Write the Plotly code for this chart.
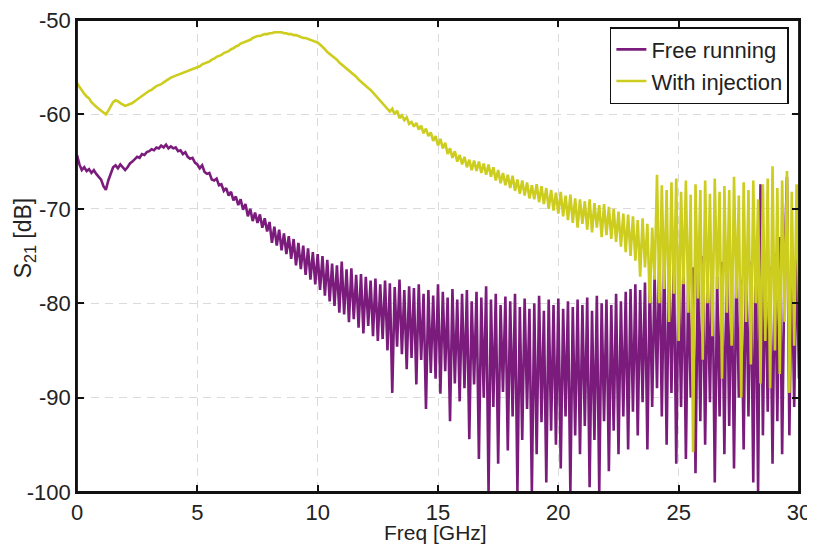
import plotly.graph_objects as go

# Frequency grid: 0 .. 30 GHz, one sample per 0.1 GHz (rows below = 1 GHz each)
FREQ_STEP = 0.1

free_running = [
    -64.3, -65.3, -65.9, -65.6, -66.0, -65.8, -66.2, -65.9, -66.3, -66.6,   # 0
    -66.9, -67.6, -68.0, -67.0, -66.2, -65.6, -65.4, -65.7, -65.3, -65.6,   # 1
    -65.9, -65.6, -65.2, -65.0, -64.8, -64.5, -64.6, -64.2, -64.3, -64.0,   # 2
    -63.9, -63.7, -63.8, -63.5, -63.6, -63.3, -63.5, -63.2, -63.6, -63.4,   # 3
    -63.6, -63.5, -63.9, -63.8, -64.2, -64.0, -64.5, -64.7, -64.6, -65.1,   # 4
    -65.3, -65.7, -65.4, -66.1, -66.3, -66.2, -66.9, -67.0, -66.8, -67.5,   # 5
    -67.4, -68.1, -67.8, -68.6, -68.2, -69.1, -68.7, -69.6, -69.0, -70.1,   # 6
    -69.5, -70.8, -70.0, -71.3, -70.4, -71.5, -70.6, -72.0, -71.0, -72.4,   # 7
    -71.4, -73.6, -71.9, -73.9, -72.2, -74.4, -72.6, -74.8, -72.9, -75.3,   # 8
    -73.2, -76.0, -73.6, -76.4, -73.9, -77.0, -74.2, -77.5, -74.6, -78.0,   # 9
    -74.8, -78.6, -75.0, -79.2, -75.4, -79.8, -75.8, -80.3, -76.0, -81.0,   # 10
    -75.6, -81.2, -76.4, -82.0, -76.3, -81.7, -77.0, -82.6, -76.9, -83.2,   # 11
    -77.2, -82.4, -77.6, -83.5, -77.4, -84.0, -78.0, -83.8, -77.6, -85.0,   # 12
    -77.9, -89.5, -78.3, -84.6, -77.5, -85.4, -78.6, -87.0, -78.2, -85.8,   # 13
    -78.4, -88.6, -78.0, -86.0, -79.0, -91.2, -78.6, -87.4, -79.2, -88.0,   # 14
    -78.0, -89.6, -78.8, -87.2, -79.4, -92.5, -78.5, -88.5, -79.6, -90.4,   # 15
    -79.0, -89.0, -78.6, -94.4, -79.8, -88.6, -78.8, -96.5, -79.4, -90.0,   # 16
    -78.2, -100.0, -79.6, -91.0, -79.0, -97.0, -80.2, -89.4, -79.3, -95.6,  # 17
    -79.8, -92.0, -79.0, -100.0, -80.4, -94.5, -79.5, -91.2, -80.6, -100.0, # 18
    -80.0, -96.0, -79.2, -92.6, -80.8, -99.0, -79.6, -93.5, -80.2, -95.0,   # 19
    -79.5, -97.5, -80.6, -92.0, -79.8, -100.0, -80.4, -94.0, -79.6, -96.0,  # 20
    -80.2, -93.0, -79.4, -99.5, -80.8, -94.5, -79.2, -100.0, -80.0, -92.5,  # 21
    -79.6, -97.8, -80.2, -93.5, -79.0, -96.0, -79.8, -92.0, -78.8, -95.5,   # 22
    -78.5, -91.5, -78.0, -94.0, -78.6, -90.5, -77.8, -95.5, -77.5, -91.0,   # 23
    -77.0, -89.0, -74.4, -92.0, -74.8, -95.0, -75.5, -89.5, -74.6, -97.0,   # 24
    -76.0, -91.0, -75.2, -96.5, -77.0, -90.0, -76.2, -98.0, -75.8, -92.5,   # 25
    -75.0, -95.0, -76.6, -90.5, -74.8, -99.0, -77.2, -92.0, -75.6, -96.0,   # 26
    -74.4, -93.0, -76.0, -97.5, -75.2, -90.0, -77.5, -95.5, -74.9, -92.0,   # 27
    -75.6, -99.0, -73.6, -100.0, -67.4, -94.0, -75.0, -91.5, -76.2, -97.0,  # 28
    -74.8, -92.5, -73.0, -96.0, -75.5, -66.6, -94.0, -75.0, -91.0, -74.0,   # 29
    -88.0,                                                                   # 30
]

with_injection = [
    -56.7, -57.1, -57.4, -57.8, -58.1, -58.3, -58.7, -59.0, -59.2, -59.4,   # 0
    -59.6, -59.8, -60.0, -59.6, -59.1, -58.7, -58.5, -58.6, -58.8, -59.0,   # 1
    -59.1, -59.0, -58.9, -58.8, -58.6, -58.4, -58.2, -58.0, -57.8, -57.7,   # 2
    -57.5, -57.4, -57.2, -57.0, -56.9, -56.8, -56.6, -56.4, -56.2, -56.1,   # 3
    -56.0, -55.9, -55.8, -55.7, -55.6, -55.5, -55.4, -55.3, -55.2, -55.1,   # 4
    -55.0, -54.9, -54.7, -54.6, -54.5, -54.4, -54.2, -54.1, -53.9, -53.8,   # 5
    -53.7, -53.5, -53.4, -53.3, -53.1, -53.0, -52.8, -52.7, -52.5, -52.4,   # 6
    -52.3, -52.2, -52.1, -51.9, -51.8, -51.7, -51.7, -51.6, -51.5, -51.5,   # 7
    -51.4, -51.4, -51.3, -51.3, -51.3, -51.3, -51.4, -51.4, -51.5, -51.5,   # 8
    -51.6, -51.6, -51.7, -51.8, -51.9, -51.9, -52.0, -52.1, -52.2, -52.3,   # 9
    -52.4, -52.6, -52.8, -53.1, -53.4, -53.6, -53.8, -54.0, -54.2, -54.5,   # 10
    -54.7, -55.0, -55.2, -55.4, -55.6, -55.8, -56.0, -56.3, -56.5, -56.7,   # 11
    -56.9, -57.2, -57.4, -57.7, -58.0, -58.3, -58.6, -58.9, -59.2, -59.5,   # 12
    -59.7, -59.4, -60.0, -59.6, -60.4, -60.1, -60.6, -60.3, -61.0, -60.8,   # 13
    -61.3, -60.9, -61.6, -61.2, -62.0, -61.5, -62.3, -61.9, -62.8, -62.3,   # 14
    -63.3, -62.6, -63.6, -63.0, -64.2, -63.6, -64.6, -63.9, -65.0, -64.3,   # 15
    -65.3, -64.5, -65.6, -64.8, -65.9, -64.9, -66.0, -65.0, -66.2, -65.2,   # 16
    -66.4, -65.3, -66.6, -65.6, -67.0, -65.9, -67.3, -66.2, -67.5, -66.4,   # 17
    -67.8, -66.5, -68.1, -66.9, -68.4, -67.0, -68.6, -67.2, -68.9, -67.5,   # 18
    -69.0, -67.4, -69.3, -67.6, -69.5, -67.8, -70.0, -68.0, -70.2, -68.3,   # 19
    -70.5, -68.2, -70.8, -68.6, -71.2, -68.5, -71.5, -68.9, -72.0, -69.0,   # 20
    -71.6, -69.2, -72.2, -69.0, -72.5, -69.4, -72.0, -69.6, -73.0, -69.5,   # 21
    -72.8, -69.8, -73.2, -70.0, -73.5, -70.3, -74.0, -70.5, -74.6, -70.6,   # 22
    -75.0, -70.8, -75.5, -71.2, -77.2, -71.0, -76.2, -71.6, -80.0, -72.0,   # 23
    -77.5, -66.4, -80.0, -67.5, -78.5, -68.0, -82.0, -67.2, -79.0, -66.8,   # 24
    -84.0, -68.2, -78.0, -67.0, -81.0, -68.5, -95.8, -67.4, -79.5, -68.0,   # 25
    -86.0, -67.0, -80.0, -68.4, -83.5, -66.8, -78.5, -68.2, -88.0, -67.6,   # 26
    -81.0, -68.0, -84.5, -66.6, -79.5, -68.6, -90.0, -67.2, -82.0, -68.0,   # 27
    -86.5, -67.0, -80.0, -69.0, -88.5, -67.4, -84.0, -66.8, -89.0, -65.5,   # 28
    -85.0, -67.8, -87.5, -67.0, -82.0, -66.0, -89.5, -68.2, -84.5, -67.4,   # 29
    -80.0,                                                                   # 30
]

x_ticks = [0, 5, 10, 15, 20, 25, 30]
x_tick_labels = ["0", "5", "10", "15", "20", "25", "30"]
y_ticks = [-100, -90, -80, -70, -60, -50]
y_tick_labels = ["-100", "-90", "-80", "-70", "-60", "-50"]

freq = [round(i * FREQ_STEP, 1) for i in range(len(free_running))]

FONT = "Liberation Sans, Arial, sans-serif"
PURPLE = "#7b1c7d"
YELLOW = "#cdcd1f"

fig = go.Figure()
fig.add_trace(go.Scatter(x=freq, y=free_running, mode="lines", name="Free running",
                         line=dict(color=PURPLE, width=2.6)))
fig.add_trace(go.Scatter(x=freq, y=with_injection, mode="lines", name="With injection",
                         line=dict(color=YELLOW, width=2.6)))

axis_common = dict(
    ticks="inside", ticklen=7, tickwidth=1.5, tickcolor="#111",
    showline=True, linecolor="#111", linewidth=1.8, mirror="ticks",
    showgrid=True, gridcolor="#dadada", gridwidth=1, griddash="8px,6px",
    zeroline=False, tickfont=dict(family=FONT, size=22, color="#222"),
    ticklabeloverflow="allow",
)

fig.update_layout(
    width=815, height=544,
    # the page body adds an 8 px offset, so the margins compensate for it
    margin=dict(l=69, r=24, t=12, b=60, autoexpand=False),
    paper_bgcolor="white", plot_bgcolor="white",
    xaxis=dict(range=[0, 30], tickvals=x_ticks, ticktext=x_tick_labels, **axis_common),
    yaxis=dict(range=[-100, -50], tickvals=y_ticks, ticktext=y_tick_labels, **axis_common),
    legend=dict(x=0.986, y=0.985, xanchor="right", yanchor="top",
                bordercolor="#111", borderwidth=1.5, bgcolor="white",
                font=dict(family=FONT, size=22, color="#222"),
                itemwidth=30, tracegroupgap=0),
    showlegend=True,
    shapes=[dict(type="rect", xref="paper", yref="paper", x0=0, x1=1, y0=0, y1=1,
                 line=dict(color="#111", width=1.8), layer="above")],
    annotations=[
        dict(text="Freq [GHz]", xref="paper", yref="paper", x=0.497, y=-0.086,
             xanchor="center", yanchor="middle", showarrow=False,
             font=dict(family=FONT, size=21, color="#222")),
        dict(text="S<sub>21</sub> [dB]", xref="paper", yref="paper", x=-0.073, y=0.538,
             xanchor="center", yanchor="middle", textangle=-90, showarrow=False,
             font=dict(family=FONT, size=23, color="#222")),
    ],
)

fig.write_html("out.html")
